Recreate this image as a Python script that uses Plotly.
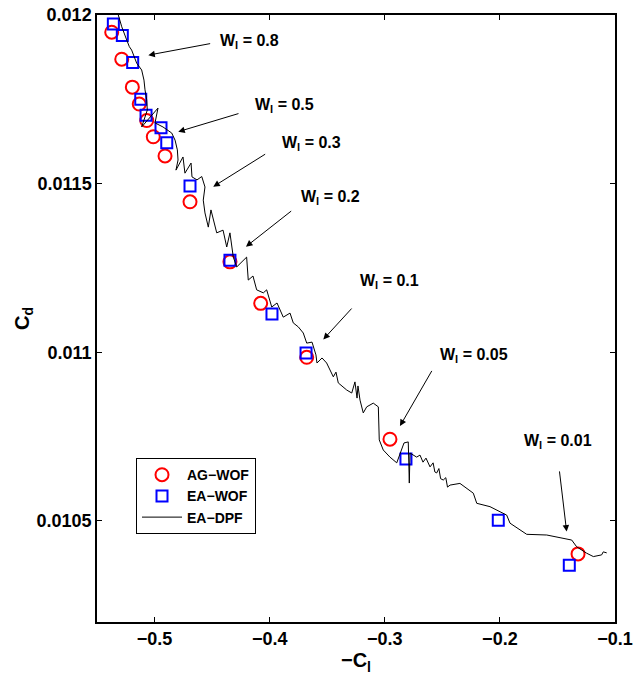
import plotly.graph_objects as go

# ---------------- data ----------------
ag_x = [-0.5372, -0.5285, -0.5193, -0.5133, -0.5068, -0.5011, -0.4909,
        -0.4692, -0.4345, -0.4078, -0.3678, -0.2955, -0.1321]
ag_y = [0.011949, 0.011869, 0.011786, 0.011736, 0.011687, 0.011639, 0.011582,
        0.011446, 0.011268, 0.011145, 0.010985, 0.010742, 0.010402]

ea_x = [-0.5358, -0.5280, -0.5190, -0.5120, -0.5074, -0.4944, -0.4894,
        -0.4692, -0.4345, -0.3980, -0.3684, -0.2816, -0.2014, -0.1397]
ea_y = [0.011973, 0.011939, 0.011859, 0.011750, 0.011703, 0.011666, 0.011621,
        0.011493, 0.011273, 0.011113, 0.010998, 0.010683, 0.010502, 0.010368]

dpf_x = [-0.5315, -0.5285, -0.5242, -0.5219, -0.5199, -0.5155, -0.5112, -0.5092,
         -0.5083, -0.5068, -0.5063, -0.5112, -0.4970, -0.4996, -0.4927, -0.4851,
         -0.4822, -0.4802, -0.4796, -0.4814, -0.4753, -0.4736, -0.4683, -0.4675,
         -0.4631, -0.4590, -0.4562, -0.4577, -0.4562, -0.4533, -0.4510, -0.4475,
         -0.4460, -0.4405, -0.4373, -0.4345, -0.4316, -0.4286, -0.4229, -0.4200,
         -0.4186, -0.4145, -0.4113, -0.4055, -0.4026, -0.3982, -0.3936, -0.3882,
         -0.3823, -0.3795, -0.3751, -0.3708, -0.3678, -0.3632, -0.3598, -0.3589,
         -0.3545, -0.3505, -0.3447, -0.3424, -0.3404, -0.3331, -0.3287, -0.3259,
         -0.3241, -0.3233, -0.3215, -0.3187, -0.3157, -0.3100, -0.3056, -0.3048,
         -0.3013, -0.2955, -0.2896, -0.2833, -0.2796, -0.2787, -0.2781, -0.2723,
         -0.2694, -0.2668, -0.2642, -0.2607, -0.2580, -0.2565, -0.2549, -0.2530,
         -0.2515, -0.2492, -0.2470, -0.2455, -0.2433, -0.2347,
         -0.2231, -0.2201, -0.2086, -0.1941, -0.1912, -0.1825, -0.1767, -0.1593,
         -0.1376, -0.1333, -0.1246, -0.1188, -0.1116, -0.1102, -0.1072]
dpf_y = [0.012000, 0.011965, 0.011926, 0.011906, 0.011896, 0.011857, 0.011837, 0.011807,
         0.011778, 0.011748, 0.011718, 0.011668, 0.011724, 0.011680, 0.011668, 0.011650,
         0.011629, 0.011600, 0.011570, 0.011540, 0.011579, 0.011531, 0.011561, 0.011520,
         0.011511, 0.011521, 0.011490, 0.011451, 0.011413, 0.011371, 0.011422, 0.011371,
         0.011354, 0.011362, 0.011312, 0.011354, 0.011282, 0.011253, 0.011273, 0.011282,
         0.011214, 0.011226, 0.011185, 0.011176, 0.011185, 0.011134, 0.011146, 0.011104,
         0.011116, 0.011087, 0.011075, 0.011057, 0.011027, 0.011030, 0.010992, 0.010968,
         0.010983, 0.010968, 0.010927, 0.010941, 0.010909, 0.010888, 0.010879, 0.010912,
         0.010864, 0.010900, 0.010858, 0.010820, 0.010838, 0.010849, 0.010838, 0.010740,
         0.010710, 0.010689, 0.010672, 0.010731, 0.010734, 0.010612, 0.010701, 0.010689,
         0.010695, 0.010674, 0.010686, 0.010660, 0.010672, 0.010645, 0.010642, 0.010655,
         0.010625, 0.010621, 0.010628, 0.010600, 0.010606, 0.010611,
         0.010582, 0.010552, 0.010542, 0.010517, 0.010493, 0.010473, 0.010460, 0.010458,
         0.010443, 0.010423, 0.010404, 0.010394, 0.010399, 0.010408, 0.010405]

x_ticks = [-0.5, -0.4, -0.3, -0.2, -0.1]
x_tick_text = ["\u22120.5", "\u22120.4", "\u22120.3", "\u22120.2", "\u22120.1"]
y_ticks = [0.0105, 0.011, 0.0115, 0.012]
y_tick_text = ["0.0105", "0.011", "0.0115", "0.012"]

# weight-factor call-outs
w_labels = ["0.8", "0.5", "0.3", "0.2", "0.1", "0.05", "0.01"]
arrow_head_x = [-0.5054, -0.4794, -0.4490, -0.4206, -0.3534, -0.2868, -0.1420]
arrow_head_y = [0.011881, 0.011654, 0.011491, 0.011313, 0.011038, 0.010781, 0.010468]
arrow_tail_x = [-0.4504, -0.4258, -0.4026, -0.3800, -0.3276, -0.2584, -0.1484]
arrow_tail_y = [0.011916, 0.011709, 0.011590, 0.011422, 0.011134, 0.010949, 0.010651]
label_x = [-0.4449, -0.4145, -0.3910, -0.3745, -0.3233, -0.2538, -0.1811]
label_y = [0.011920, 0.011733, 0.011620, 0.011460, 0.011211, 0.010989, 0.010735]

FONT = "Liberation Sans, Arial, Helvetica, sans-serif"

fig = go.Figure()
fig.add_trace(go.Scatter(
    x=ag_x, y=ag_y, mode="markers", name="AG\u2212WOF",
    marker=dict(symbol="circle-open", size=13, color="#ff0000", line=dict(width=2, color="#ff0000")),
))
fig.add_trace(go.Scatter(
    x=ea_x, y=ea_y, mode="markers", name="EA\u2212WOF",
    marker=dict(symbol="square-open", size=11, color="#0000ff", line=dict(width=2, color="#0000ff")),
))
fig.add_trace(go.Scatter(
    x=dpf_x, y=dpf_y, mode="lines", name="EA\u2212DPF",
    line=dict(color="black", width=1),
))

annotations = []
for lab, hx, hy, tx, ty, lx, ly in zip(w_labels, arrow_head_x, arrow_head_y,
                                         arrow_tail_x, arrow_tail_y, label_x, label_y):
    annotations.append(dict(
        x=hx, y=hy, ax=tx, ay=ty, xref="x", yref="y", axref="x", ayref="y",
        text="", showarrow=True, arrowhead=2, arrowsize=1.3, arrowwidth=1, arrowcolor="black",
    ))
    annotations.append(dict(
        x=lx, y=ly, xref="x", yref="y", showarrow=False, xanchor="left", yanchor="middle",
        text="<b>W<sub>l</sub> = " + lab + "</b>",
        font=dict(family=FONT, size=16, color="black"),
    ))

fig.update_layout(
    width=635, height=686,
    margin=dict(l=97, r=20, t=15, b=64),
    paper_bgcolor="white", plot_bgcolor="white",
    font=dict(family=FONT, size=14, color="black"),
    showlegend=True,
    legend=dict(
        x=0.0753, y=0.27, xanchor="left", yanchor="top",
        bordercolor="black", borderwidth=1, bgcolor="white",
        font=dict(family=FONT, size=14, color="black", weight="bold"),
        tracegroupgap=0, itemwidth=40,
    ),
    annotations=annotations,
)
fig.update_xaxes(
    range=[-0.55, -0.1], tickvals=x_ticks, ticktext=x_tick_text,
    ticks="inside", ticklen=5, tickwidth=1, tickcolor="black",
    showline=True, linecolor="black", linewidth=1.5, mirror="ticks",
    showgrid=False, zeroline=False, automargin=False,
    tickfont=dict(family=FONT, size=18, color="black", weight="bold"),
    title=dict(text="<b>\u2212C<sub>l</sub></b>", font=dict(family=FONT, size=20, color="black"), standoff=4),
)
fig.update_yaxes(
    range=[0.0102, 0.012], tickvals=y_ticks, ticktext=y_tick_text,
    ticks="inside", ticklen=5, tickwidth=1, tickcolor="black",
    showline=True, linecolor="black", linewidth=1.5, mirror="ticks",
    showgrid=False, zeroline=False, automargin=False,
    tickfont=dict(family=FONT, size=18, color="black", weight="bold"),
    title=dict(text="<b>C<sub>d</sub></b>", font=dict(family=FONT, size=20, color="black"), standoff=2),
)

fig.write_html("out.html")
